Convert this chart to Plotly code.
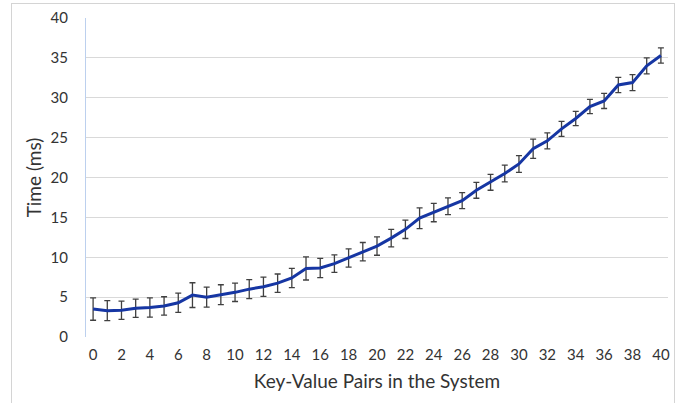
import plotly.graph_objects as go

pairs = list(range(0, 41))
time_ms = [3.5, 3.3, 3.35, 3.6, 3.7, 3.9, 4.3, 5.25, 5.0, 5.3,
           5.6, 6.0, 6.3, 6.75, 7.4, 8.6, 8.65, 9.2, 9.9, 10.7,
           11.4, 12.4, 13.5, 14.9, 15.6, 16.4, 17.1, 18.4, 19.4, 20.5,
           21.7, 23.6, 24.6, 26.1, 27.4, 28.9, 29.6, 31.6, 31.9, 34.0,
           35.3]
err_ms = [1.4, 1.25, 1.15, 1.15, 1.2, 1.15, 1.2, 1.55, 1.25, 1.25,
          1.15, 1.2, 1.2, 1.15, 1.2, 1.45, 1.2, 1.1, 1.15, 1.15,
          1.15, 1.1, 1.15, 1.3, 1.15, 1.05, 1.0, 1.0, 1.0, 1.05,
          1.05, 1.2, 1.0, 0.95, 0.9, 0.9, 0.95, 0.95, 1.0, 1.0,
          0.95]
x_ticks = list(range(0, 41, 2))
y_ticks = list(range(0, 41, 5))

FONT = "Lato"
TXT = "#333333"

fig = go.Figure()
fig.add_trace(go.Scatter(
    x=pairs, y=time_ms, mode="lines",
    line=dict(color="#1636a3", width=3),
    error_y=dict(type="data", array=err_ms, visible=True,
                 color="#404040", thickness=1.3, width=3),
    showlegend=False,
))

fig.update_layout(
    width=678, height=403,
    margin=dict(l=86, r=8, t=15, b=66),
    paper_bgcolor="white", plot_bgcolor="white",
    font=dict(family=FONT, size=15, color=TXT),
    xaxis=dict(
        range=[-0.5, 40.5], tickmode="array", tickvals=x_ticks,
        ticktext=[str(v) for v in x_ticks],
        showgrid=False, zeroline=False, showline=False, ticks="",
        ticklabelstandoff=7,
        title=dict(text="Key-Value Pairs in the System",
                   font=dict(family=FONT, size=19, color=TXT),
                   standoff=12),
    ),
    yaxis=dict(
        range=[0, 40], tickmode="array", tickvals=y_ticks,
        showgrid=True, gridcolor="#d9d9d9", gridwidth=1.3,
        zeroline=False, showline=True, linecolor="#bcd0ee", linewidth=1.3,
        ticks="", ticklabelstandoff=14,
        title=dict(text="Time (ms)",
                   font=dict(family=FONT, size=19, color=TXT),
                   standoff=3),
    ),
)

post = (
    "document.body.style.margin='0';"
    "var d=document.createElement('div');"
    "d.style.cssText='position:absolute;left:11px;top:3px;width:662px;"
    "height:430px;border:1px solid #d4d4d4;pointer-events:none;';"
    "document.body.appendChild(d);"
)
fig.write_html("out.html", config={"displayModeBar": False}, post_script=post)
